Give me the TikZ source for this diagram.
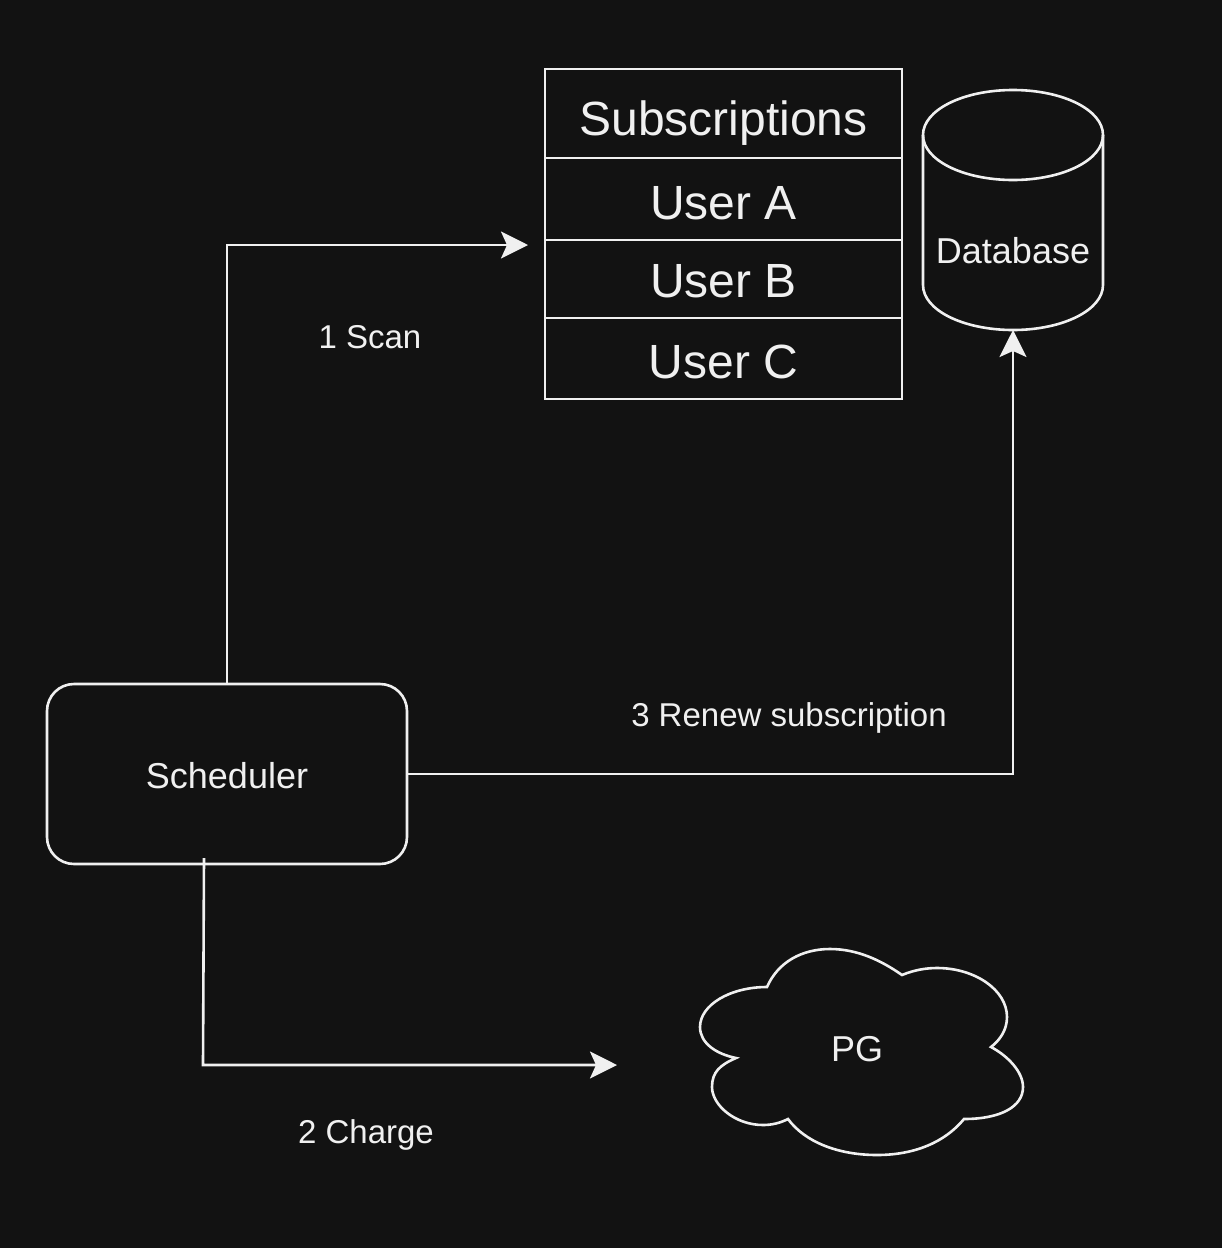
\documentclass[tikz,border=0pt]{standalone}
\usepackage{fontspec}
\setmainfont{Liberation Sans}
\usetikzlibrary{arrows.meta}
\definecolor{bgc}{HTML}{121212}
\definecolor{ink}{HTML}{F0F0F0}
\tikzset{
  ln/.style={draw=ink,line width=1.3pt},
  conn/.style={ln,-{Stealth[length=13.5pt,width=13.5pt,inset=3pt,color=ink]}},
  rowbox/.style={ln,rectangle,inner sep=0pt,outer sep=0pt,minimum width=178.5pt},
  big/.style={text=ink,font=\fontsize{24}{28}\selectfont,anchor=base,inner sep=0pt},
  mid/.style={text=ink,font=\fontsize{18}{22}\selectfont,anchor=base,inner sep=0pt},
  small/.style={text=ink,font=\fontsize{16.5}{20}\selectfont,anchor=base,inner sep=0pt},
}
\begin{document}
\begin{tikzpicture}[x=0.5pt,y=-0.5pt]
\path[use as bounding box,fill=bgc] (0,0) rectangle (1222,1248);
% table
\node[rowbox,minimum height=44.5pt] (r0) at (723.5,113.5) {};
\node[rowbox,minimum height=41pt] (r1) at (723.5,199) {};
\node[rowbox,minimum height=39pt] (r2) at (723.5,279) {};
\node[rowbox,minimum height=40.5pt] (r3) at (723.5,358.5) {};
\node[big] (t0) at (723.5,135) {Subscriptions};
\node[big] (t1) at (723.5,219) {User A};
\node[big] (t2) at (723.5,297) {User B};
\node[big] (t3) at (723.5,378) {User C};
% database
\draw[ln] (923,135) .. controls (923,110) and (963,90) .. (1013,90)
  .. controls (1063,90) and (1103,110) .. (1103,135)
  -- (1103,285) .. controls (1103,310) and (1063,330) .. (1013,330)
  .. controls (963,330) and (923,310) .. (923,285) -- cycle;
\draw[ln] (923,135) .. controls (923,160) and (963,180) .. (1013,180)
  .. controls (1063,180) and (1103,160) .. (1103,135);
\node[mid] (db) at (1013,263) {Database};
\coordinate (dbb) at (1013,330);
% scheduler
\node[ln,rectangle,rounded corners=13.5pt,minimum width=180pt,minimum height=90pt,inner sep=0pt,outer sep=0pt] (sch) at (227,774) {};
\node[mid] (scht) at (227,788) {Scheduler};
% cloud
\draw[ln,line join=miter] (767,987) .. controls (778,962) and (802,949) .. (830,949)
  .. controls (858,949) and (882,961) .. (902,975)
  .. controls (914,970) and (926,968) .. (937,968)
  .. controls (975,968) and (1007,990) .. (1007,1017)
  .. controls (1007,1030) and (1000,1040) .. (991,1047)
  .. controls (1008,1056) and (1023,1072) .. (1023,1087)
  .. controls (1023,1107) and (1000,1119) .. (964,1119)
  .. controls (945,1142) and (915,1155) .. (877,1155)
  .. controls (838,1155) and (805,1142) .. (788,1119)
  .. controls (780,1123) and (772,1125) .. (763,1125)
  .. controls (735,1125) and (712,1105) .. (712,1087)
  .. controls (712,1072) and (720,1065) .. (736,1058)
  .. controls (716,1054) and (700,1043) .. (700,1027)
  .. controls (700,1005) and (730,987) .. (767,987) -- cycle;
\node[mid] (pg) at (857,1061) {PG};
% connectors
\coordinate (scanEnd) at (528,245);
\coordinate (chargeStart) at (204,858);
\coordinate (chargeEnd) at (617,1065);
\draw[conn] (sch.north) |- (scanEnd);
\draw[conn] (chargeStart) -- (203,1065) -- (chargeEnd);
\draw[conn] (sch.east) -| (dbb);
% labels
\node[small] (l1) at (370,348) {1 Scan};
\node[small] (l2) at (366,1143) {2 Charge};
\node[small] (l3) at (789,726) {3 Renew subscription};
\end{tikzpicture}
\end{document}
